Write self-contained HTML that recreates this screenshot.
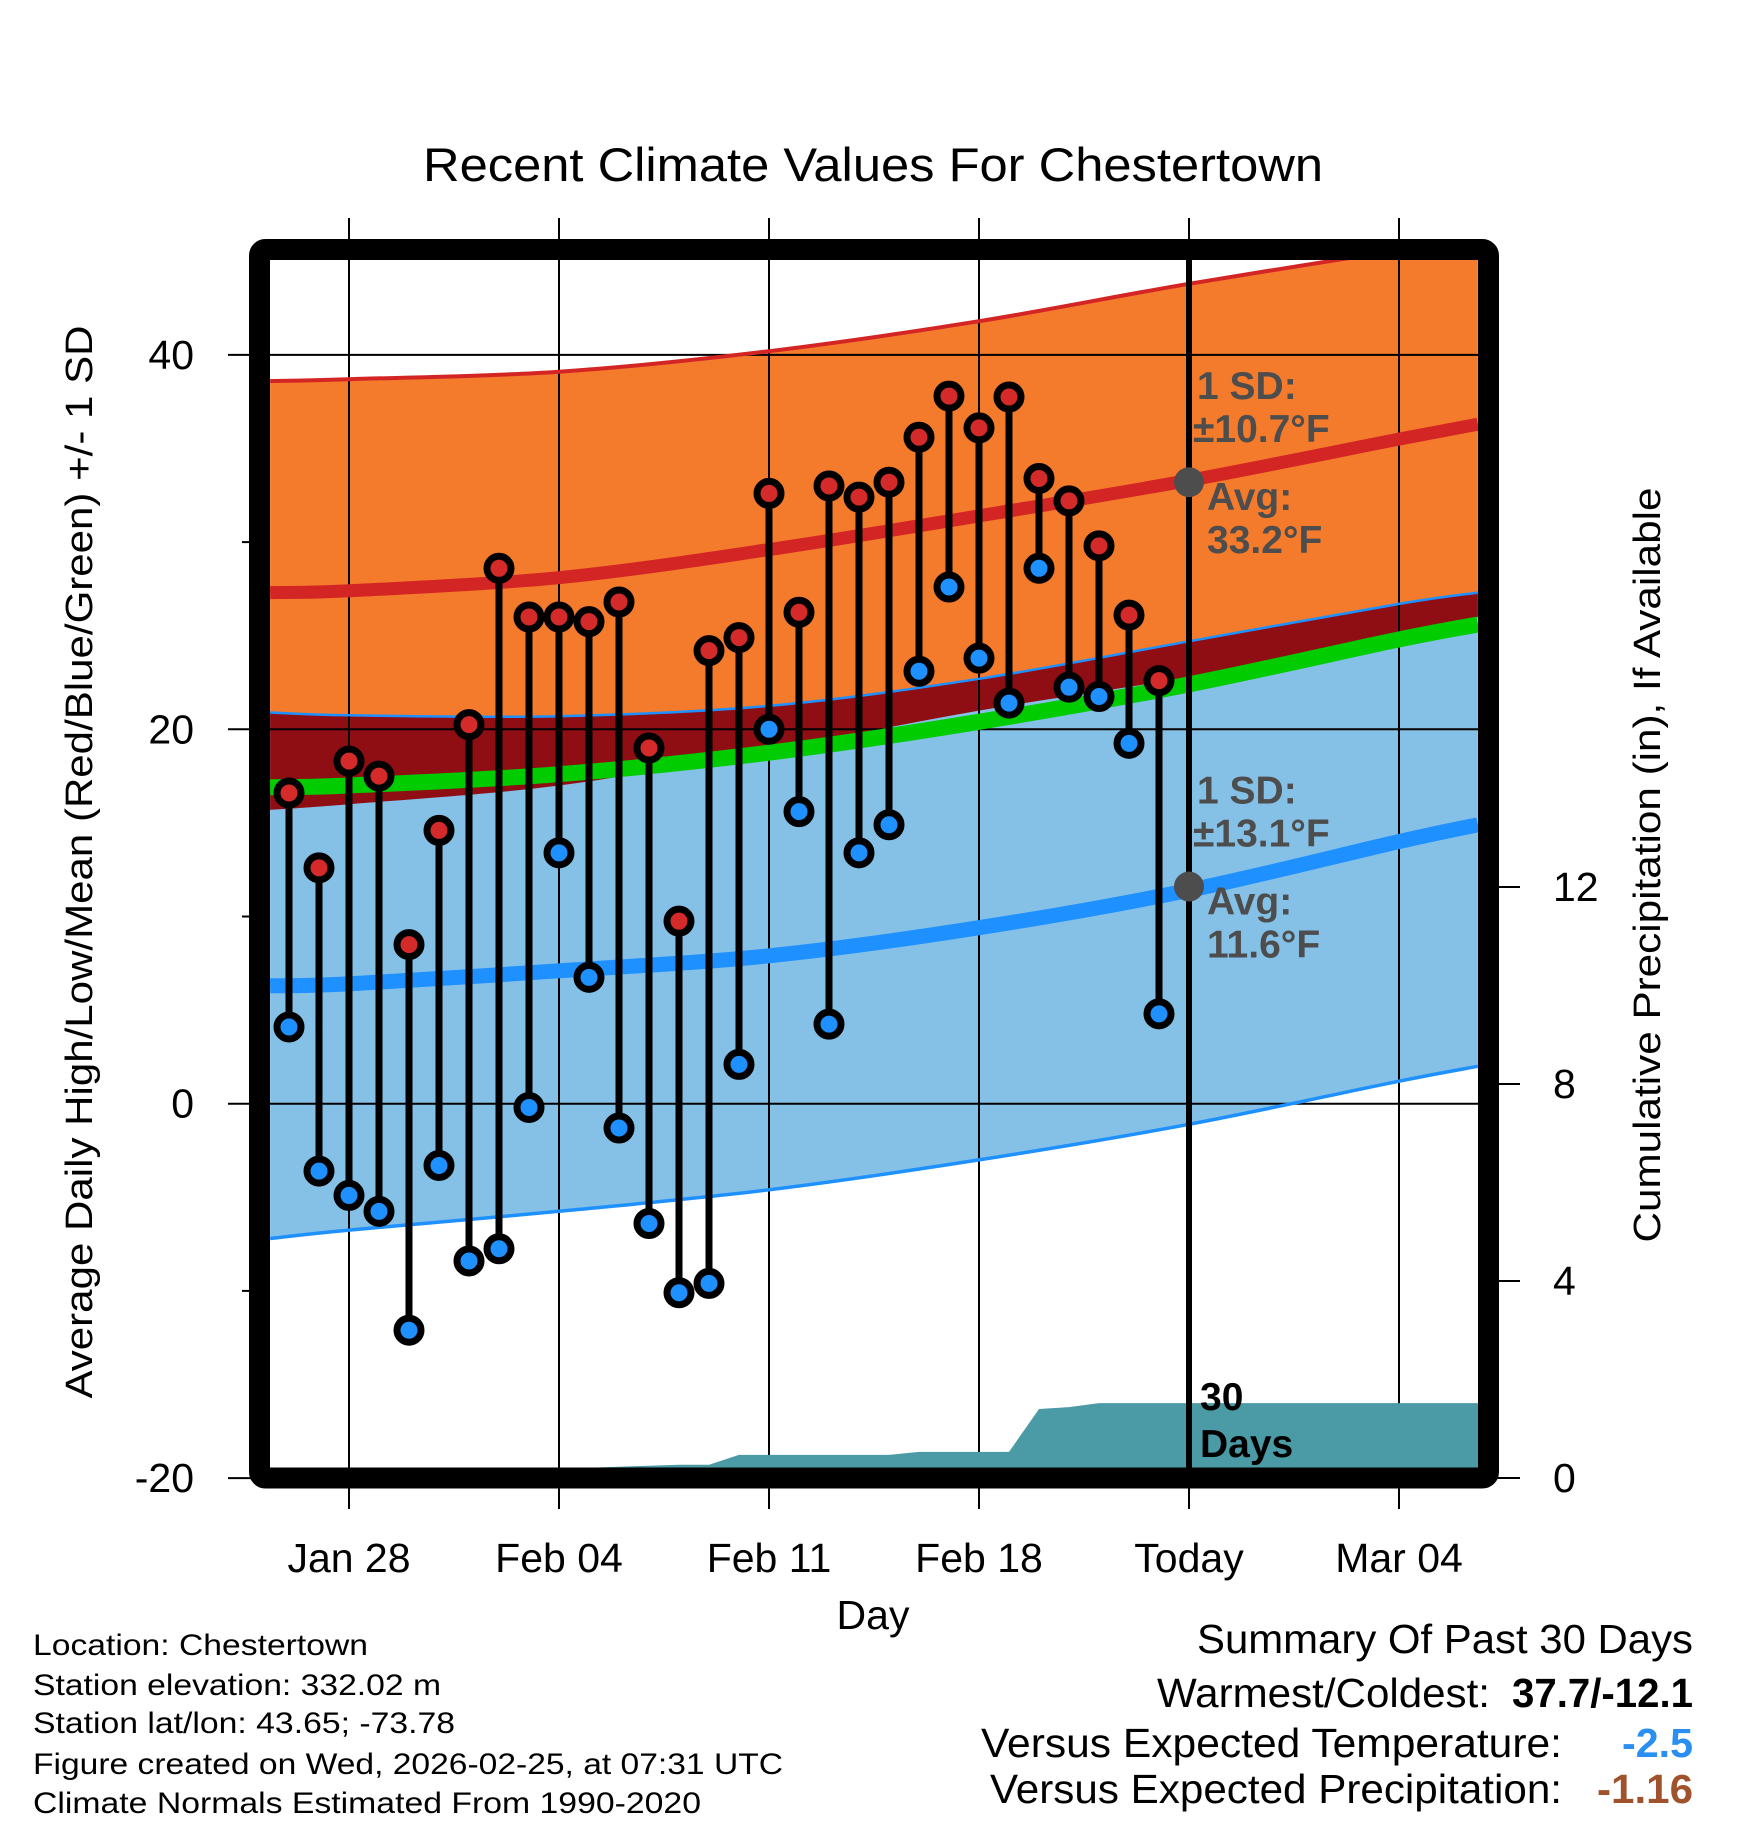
<!DOCTYPE html>
<html><head><meta charset="utf-8"><title>Recent Climate Values For Chestertown</title>
<style>
html,body{margin:0;padding:0;background:#fff;}
svg{display:block;font-family:"Liberation Sans",Arial,sans-serif;}
</style></head>
<body>
<svg id="chart" width="1748" height="1828" viewBox="0 0 1748 1828" xmlns="http://www.w3.org/2000/svg">
<defs><clipPath id="plotclip"><rect x="270" y="260" width="1208" height="1208"/></clipPath></defs>
<text x="873" y="181" font-size="47" text-anchor="middle" textLength="900" lengthAdjust="spacingAndGlyphs">Recent Climate Values For Chestertown</text>
<g id="bands" clip-path="url(#plotclip)"></g>
<g id="grid"></g>
<g id="precip" clip-path="url(#plotclip)"></g>
<g id="lines" clip-path="url(#plotclip)"></g>
<g id="marks"></g>
<g id="annot"></g>
<rect x="259.5" y="249.5" width="1229" height="1228.5" rx="6" fill="none" stroke="#000" stroke-width="21"/>
<g id="axes"></g>
<text x="873" y="1629" font-size="41" text-anchor="middle">Day</text>
<text transform="translate(92,862) rotate(-90)" font-size="38" text-anchor="middle" textLength="1073" lengthAdjust="spacingAndGlyphs">Average Daily High/Low/Mean (Red/Blue/Green) +/- 1 SD</text>
<text transform="translate(1660,865) rotate(-90)" font-size="38" text-anchor="middle" textLength="755" lengthAdjust="spacingAndGlyphs">Cumulative Precipitation (in), If Available</text>
<g font-size="30">
<text x="33" y="1655" textLength="335" lengthAdjust="spacingAndGlyphs">Location: Chestertown</text>
<text x="33" y="1695" textLength="408" lengthAdjust="spacingAndGlyphs">Station elevation: 332.02 m</text>
<text x="33" y="1733" textLength="422" lengthAdjust="spacingAndGlyphs">Station lat/lon: 43.65; -73.78</text>
<text x="33" y="1774" textLength="750" lengthAdjust="spacingAndGlyphs">Figure created on Wed, 2026-02-25, at 07:31 UTC</text>
<text x="33" y="1813" textLength="668" lengthAdjust="spacingAndGlyphs">Climate Normals Estimated From 1990-2020</text>
</g>
<g font-size="41">
<text x="1197" y="1653" textLength="496" lengthAdjust="spacingAndGlyphs">Summary Of Past 30 Days</text>
<text x="1157" y="1707" textLength="333" lengthAdjust="spacingAndGlyphs">Warmest/Coldest:</text>
<text x="1512" y="1707" font-weight="bold" textLength="181" lengthAdjust="spacingAndGlyphs">37.7/-12.1</text>
<text x="981" y="1757" textLength="581" lengthAdjust="spacingAndGlyphs">Versus Expected Temperature:</text>
<text x="1622" y="1757" font-weight="bold" fill="#2a8ff0" textLength="71" lengthAdjust="spacingAndGlyphs">-2.5</text>
<text x="990" y="1803" textLength="572" lengthAdjust="spacingAndGlyphs">Versus Expected Precipitation:</text>
<text x="1597" y="1803" font-weight="bold" fill="#a0522d" textLength="96" lengthAdjust="spacingAndGlyphs">-1.16</text>
</g>
</svg>
<script>
// ---- data ----
const xTickDays = [0, 7, 14, 21, 28, 35];
const xTickLabels = ["Jan 28", "Feb 04", "Feb 11", "Feb 18", "Today", "Mar 04"];
const yTickValues = [-20, 0, 20, 40];
const yMinorValues = [-10, 10, 30];
const precipTickValues = [0, 4, 8, 12];
// daily observations, day offsets relative to Jan 28 (Jan 26 .. Feb 24)
const obsDays = [-2,-1,0,1,2,3,4,5,6,7,8,9,10,11,12,13,14,15,16,17,18,19,20,21,22,23,24,25,26,27];
const highs = [16.6,12.6,18.3,17.5,8.5,14.6,20.25,28.6,26,26,25.75,26.8,19,9.75,24.2,24.9,32.6,26.25,33,32.4,33.2,35.6,37.8,36.1,37.75,33.4,32.2,29.8,26.1,22.6];
const lows = [4.1,-3.6,-4.9,-5.75,-12.1,-3.3,-8.4,-7.75,-0.2,13.4,6.75,-1.3,-6.4,-10.1,-9.6,2.1,20,15.6,4.25,13.4,14.9,23.1,27.6,23.8,21.4,28.6,22.25,21.75,19.25,4.8];
const precipCum = [0.2,0.2,0.2,0.2,0.2,0.2,0.2,0.2,0.2,0.2,0.21,0.23,0.25,0.27,0.27,0.47,0.47,0.47,0.47,0.47,0.47,0.53,0.53,0.53,0.53,1.40,1.44,1.52,1.52,1.52];
// climate normals sampled at these day offsets
const normDays = [-2.63, 0, 7, 14, 21, 28, 35, 37.63];
const hiMean  = [27.3,27.4,28.1,29.6,31.4,33.3,35.5,36.3];
const hiUpper = [38.6,38.7,39.1,40.2,41.8,43.8,45.6,46.4];
const hiLower = [15.7,16.0,17.0,18.9,21.0,22.8,25.0,26.0];
const loMean  = [6.3,6.4,7.1,7.9,9.4,11.4,14.0,14.9];
const loUpper = [20.9,20.75,20.7,21.25,22.7,24.7,26.7,27.3];
const loLower = [-7.2,-6.75,-5.75,-4.6,-3.0,-1.1,1.2,2.0];
const avgMean = [16.9,17.0,17.6,18.75,20.4,22.4,24.8,25.6];
const todayDay = 28;
const hiLabelTemp = 33.2, loLabelTemp = 11.6;

// ---- scales ----
const NS = "http://www.w3.org/2000/svg";
const X0 = 270, X1 = 1478, Y0 = 260, Y1 = 1468;
function xs(d){ return 349 + 30*d; }
function ys(t){ return 1103.7 - t*18.72; }
function yp(p){ return 1478 - p*49.25; }
function mk(tag, attrs, parent){ const e=document.createElementNS(NS,tag); for(const k in attrs) e.setAttribute(k,attrs[k]); parent.appendChild(e); return e; }
function pts(days, vals){ return days.map((d,i)=>[xs(d), ys(vals[i])]); }
function smooth(p){ // catmull-rom
  let s = "M"+p[0][0].toFixed(1)+","+p[0][1].toFixed(1);
  for(let i=0;i<p.length-1;i++){
    const p0=p[i-1]||p[i], p1=p[i], p2=p[i+1], p3=p[i+2]||p2;
    const c1=[p1[0]+(p2[0]-p0[0])/6, p1[1]+(p2[1]-p0[1])/6];
    const c2=[p2[0]-(p3[0]-p1[0])/6, p2[1]-(p3[1]-p1[1])/6];
    s += " C"+c1.map(v=>v.toFixed(1)).join(",")+" "+c2.map(v=>v.toFixed(1)).join(",")+" "+p2[0].toFixed(1)+","+p2[1].toFixed(1);
  }
  return s;
}
function band(upper, lower){
  const u = pts(normDays, upper), l = pts(normDays, lower).reverse();
  return smooth(u) + " L" + smooth(l).slice(1) + " Z";
}
const bands = document.getElementById("bands");
const grid = document.getElementById("grid");
const precipG = document.getElementById("precip");
const lines = document.getElementById("lines");
const marks = document.getElementById("marks");
const annot = document.getElementById("annot");
const axes = document.getElementById("axes");

// bands
let e;
e = mk("path",{d:band(hiUpper,hiLower),fill:"#f47a2c"},bands);


e = mk("path",{d:band(loUpper,loLower),fill:"#85c1e6"},bands);


e = mk("path",{d:band(loUpper,hiLower),fill:"#8e0e14"},bands);



// grid
xTickDays.forEach((d,i)=>{
  const g = mk("line",{x1:xs(d),x2:xs(d),y1:218,y2:1509,stroke:"#000","stroke-width":2},grid);
  
  
  const t = mk("text",{x:xs(d),y:1572,"font-size":41,"text-anchor":"middle"},axes);
  t.textContent = xTickLabels[i];
  
  
});
yTickValues.forEach(v=>{
  const g = mk("line",{x1:228,x2:(v===-20?270:1478),y1:ys(v),y2:ys(v),stroke:"#000","stroke-width":2},grid);
  
  
  const t = mk("text",{x:194,y:ys(v)+14,"font-size":41,"text-anchor":"end"},axes);
  t.textContent = String(v);
  
  
});
yMinorValues.forEach(v=>{
  const g = mk("line",{x1:242,x2:250,y1:ys(v),y2:ys(v),stroke:"#000","stroke-width":2},axes);
  
  
});
precipTickValues.forEach(v=>{
  const g = mk("line",{x1:1488,x2:1520,y1:yp(v),y2:yp(v),stroke:"#000","stroke-width":2},axes);
  
  
  const t = mk("text",{x:1553,y:yp(v)+14,"font-size":41},axes);
  t.textContent = String(v);
  
  
});

// precipitation area
{
  let d = "M"+X0+","+(Y1+10)+" L"+X0+","+yp(precipCum[0]).toFixed(1);
  obsDays.forEach((dd,i)=>{ d += " L"+xs(dd)+","+yp(precipCum[i]).toFixed(1); });
  d += " L"+X1+","+yp(precipCum[precipCum.length-1]).toFixed(1)+" L"+X1+","+(Y1+10)+" Z";
  const p = mk("path",{d:d,fill:"#4a9ba5"},precipG);
  
  
}

// normal lines
function line(vals,color,w,name){
  const p = mk("path",{d:smooth(pts(normDays,vals)),fill:"none",stroke:color,"stroke-width":w},lines);
  
  
}
line(hiUpper,"#d42525",4,"high-plus-sd-line");
line(loUpper,"#1e90ff",2.5,"low-plus-sd-line");
line(loLower,"#1e90ff",3.5,"low-minus-sd-line");
line(avgMean,"#00cc00",16,"mean-normal-line");
line(hiMean,"#d42525",13,"high-normal-line");
line(loMean,"#1e90ff",15,"low-normal-line");

// today line
e = mk("line",{x1:xs(todayDay),x2:xs(todayDay),y1:Y0,y2:Y1,stroke:"#000","stroke-width":6},marks);



// observations
obsDays.forEach((d,i)=>{
  const s = mk("line",{x1:xs(d),x2:xs(d),y1:ys(highs[i]),y2:ys(lows[i]),stroke:"#000","stroke-width":7},marks);
  
  
});
obsDays.forEach((d,i)=>{
  const h = mk("circle",{cx:xs(d),cy:ys(highs[i]),r:12,fill:"#d42a2a",stroke:"#000","stroke-width":7},marks);
  
  
  const l = mk("circle",{cx:xs(d),cy:ys(lows[i]),r:12,fill:"#1e90ff",stroke:"#000","stroke-width":7},marks);
  
  
});

// annotations
function txt(x,y,s,name,fill){
  const t = mk("text",{x:x,y:y,"font-size":39,"font-weight":"bold",fill:fill},annot);
  t.textContent = s;
  
  
}
[[hiLabelTemp,"±10.7°F","high"],[loLabelTemp,"±13.1°F","low"]].forEach(([t,sd,n])=>{
  const cy = ys(t);
  const c = mk("circle",{cx:xs(todayDay),cy:cy,r:15,fill:"#4d4d4d"},annot);
  
  
  txt(1197,cy-83,"1 SD:",n+"-sd-label","#4d4d4d");
  txt(1193,cy-40,sd,n+"-sd-value","#4d4d4d");
  txt(1207,cy+28,"Avg:",n+"-avg-label","#4d4d4d");
  txt(1207,cy+71,t.toFixed(1)+"°F",n+"-avg-value","#4d4d4d");
});
txt(1200,1410,"30","days-count-label","#000");
txt(1200,1457,"Days","days-word-label","#000");
</script>
</body></html>
